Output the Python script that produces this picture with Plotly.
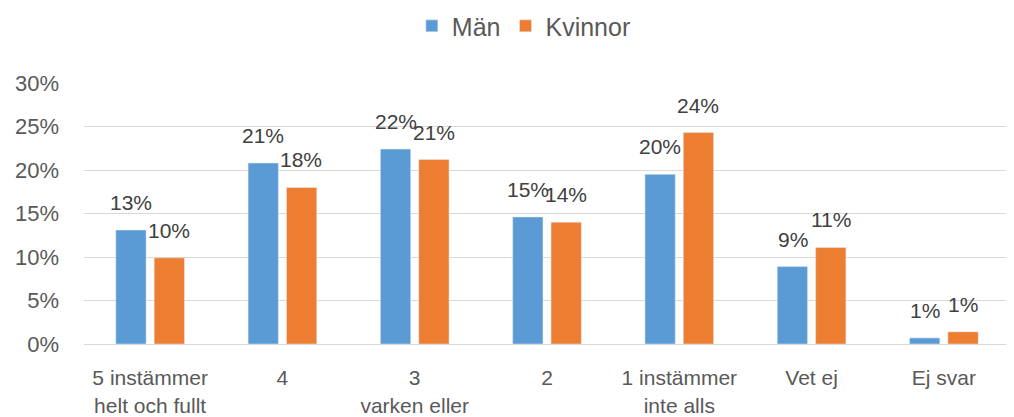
import plotly.graph_objects as go

categories = ["5 instämmer<br>helt och fullt", "4", "3<br>varken eller", "2",
              "1 instämmer<br>inte alls", "Vet ej", "Ej svar"]
man = [13.1, 20.8, 22.4, 14.6, 19.5, 8.9, 0.7]
kvinnor = [9.9, 18.0, 21.2, 14.0, 24.3, 11.1, 1.4]
tick_vals = [0, 5, 10, 15, 20, 25, 30]
tick_text = [f"{v}%" for v in tick_vals]

FONT = "Liberation Sans, Arial, Helvetica, sans-serif"
series = [("Män", man, "#5B9BD5", -19), ("Kvinnor", kvinnor, "#ED7D31", 19)]
idx = list(range(len(categories)))

fig = go.Figure()
for name, vals, color, _ in series:
    fig.add_trace(go.Bar(x=idx, y=vals, name=name, marker_color=color))

for name, vals, color, dx in series:
    for i, v in zip(idx, vals):
        fig.add_annotation(x=i, y=v, text=f"{round(v):.0f}%", showarrow=False,
                           xshift=dx, yshift=14, yanchor="bottom", xanchor="center",
                           font=dict(size=21, color="#404040", family=FONT))

fig.update_layout(
    width=1014, height=417,
    margin=dict(l=76, r=12, t=75, b=81, autoexpand=False),
    paper_bgcolor="white", plot_bgcolor="white",
    barmode="group", bargap=0.42, bargroupgap=0.21,
    font=dict(family=FONT, color="#595959", size=21),
    showlegend=True,
    legend=dict(orientation="h", x=0.475, xanchor="center", y=1.218, yanchor="middle",
                font=dict(size=25, color="#595959"), traceorder="normal"),
)
fig.update_yaxes(range=[0, 30], tickvals=tick_vals, ticktext=tick_text,
                 showgrid=True, gridcolor="#D9D9D9", gridwidth=1,
                 zeroline=False, showline=False,
                 tickfont=dict(size=22, color="#595959"), ticklabelstandoff=24)
fig.update_xaxes(tickmode="array", tickvals=idx, ticktext=categories,
                 range=[-0.5, len(categories) - 0.5],
                 showline=True, linecolor="#D9D9D9", linewidth=1,
                 ticks="outside", ticklen=15, tickcolor="rgba(0,0,0,0)",
                 tickfont=dict(size=21, color="#595959"))

fig.write_html("out.html")
